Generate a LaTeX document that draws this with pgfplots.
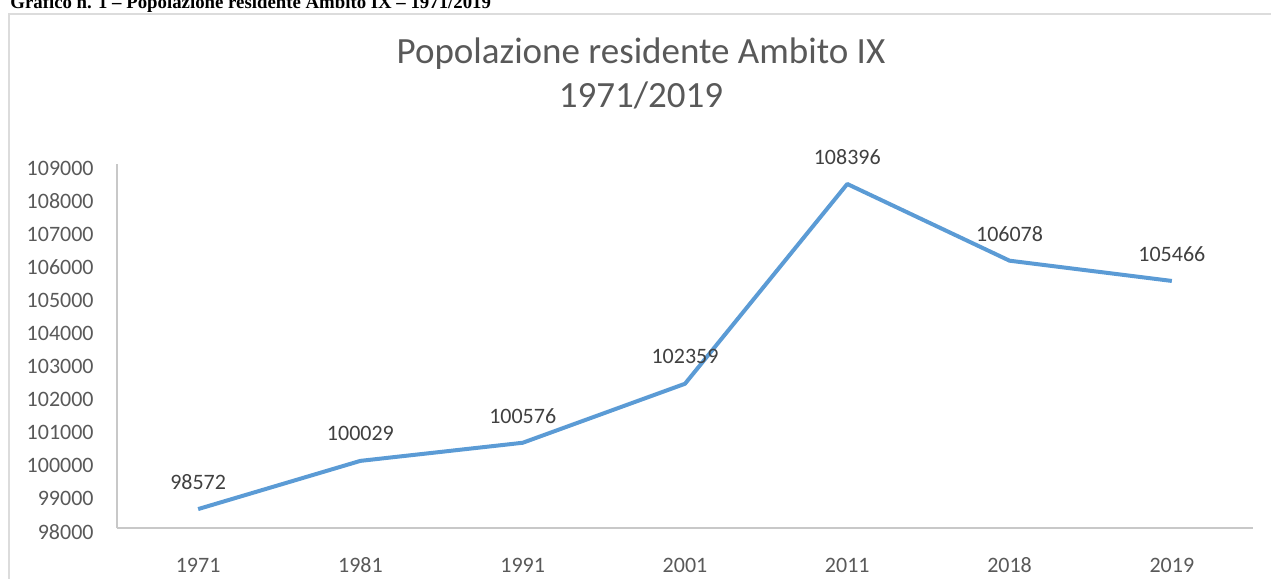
\documentclass[border=0pt]{standalone}
\usepackage{pgfplots}
\pgfplotsset{compat=1.18}
\usepackage{fontspec}
\setmainfont{Carlito}
\newfontfamily\capfont{Liberation Serif}
\definecolor{serie}{HTML}{5B9BD5}
\definecolor{testo}{HTML}{595959}
\definecolor{etich}{HTML}{404040}
\definecolor{cornice}{HTML}{DCDCDC}
\definecolor{asse}{HTML}{C8C8C8}

\begin{document}
\begin{tikzpicture}
\useasboundingbox (0,0) rectangle (635.5pt,-289.5pt);
\clip (0,0) rectangle (635.5pt,-289.5pt);

% cornice del grafico (tagliata a destra e in basso)
\draw[cornice, line width=1pt] (4.5pt,-320pt) -- (4.5pt,-6.75pt) -- (660pt,-6.75pt);

\node[anchor=base west, inner sep=0pt, font=\capfont\bfseries\fontsize{9.4}{11}\selectfont]
  at (5pt,-4pt) {Grafico n. 1 – Popolazione residente Ambito IX – 1971/2019};

\node[anchor=base, inner sep=0pt, text=testo, font=\fontsize{18.5}{22}\selectfont]
  at (320.5pt,-31.5pt) {Popolazione residente Ambito IX};
\node[anchor=base, inner sep=0pt, text=testo, font=\fontsize{18.5}{22}\selectfont]
  at (320.5pt,-53.5pt) {1971/2019};

\begin{axis}[
    scale only axis,
    width=568pt, height=182pt,
    at={(58.5pt,-264pt)}, anchor=south west,
    xmin=-0.5, xmax=6.5,
    ymin=98000, ymax=109000,
    scaled y ticks=false,
    axis lines=left,
    axis line style={-, draw=asse, line width=1pt},
    major tick length=0pt,
    xtick={0,1,2,3,4,5,6},
    xticklabels={1971,1981,1991,2001,2011,2018,2019},
    ytick={98000,99000,100000,101000,102000,103000,104000,105000,106000,107000,108000,109000},
    yticklabels={98000,99000,100000,101000,102000,103000,104000,105000,106000,107000,108000,109000},
    xticklabel style={anchor=center, inner sep=0pt, yshift=-18.5pt, text=testo, font=\fontsize{11}{13}\selectfont},
    yticklabel style={anchor=east, inner sep=0pt, xshift=-11.5pt, yshift=-2pt, text=testo, font=\fontsize{11}{13}\selectfont},
    clip=false,
    nodes near coords,
    point meta=explicit symbolic,
    every node near coord/.append style={anchor=center, inner sep=0pt, yshift=13.5pt, text=etich, font=\fontsize{11}{13}\selectfont},
]
\addplot[serie, line width=2pt, line join=round] coordinates {
    (0,98572) [98572]
    (1,100029) [100029]
    (2,100576) [100576]
    (3,102359) [102359]
    (4,108396) [108396]
    (5,106078) [106078]
    (6,105466) [105466]
};
\end{axis}
\end{tikzpicture}
\end{document}
